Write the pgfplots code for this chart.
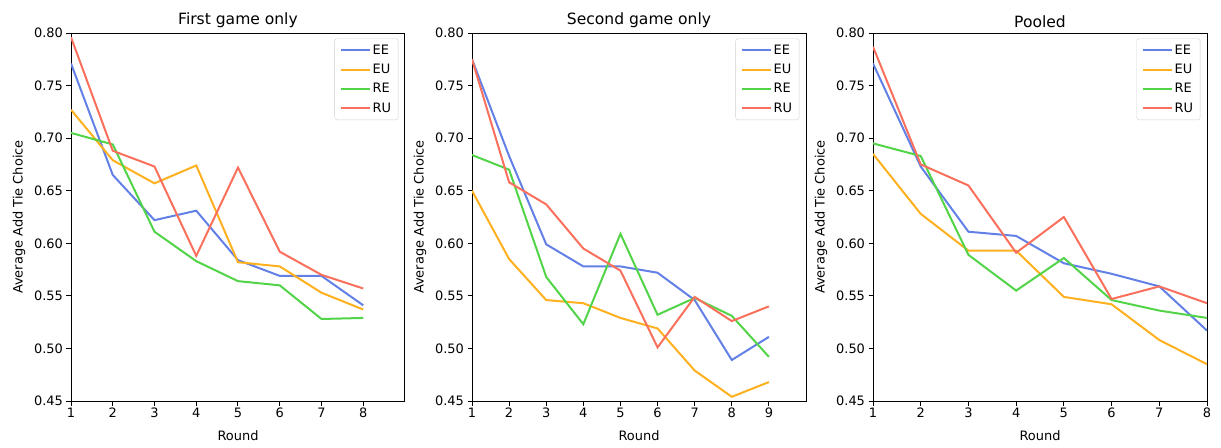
\documentclass[border=0pt]{standalone}
\usepackage{fontspec}
\setmainfont{DejaVu Sans}
\usepackage{pgfplots}
\pgfplotsset{compat=1.18}
\usepgfplotslibrary{groupplots}
\usetikzlibrary{calc}
\definecolor{cEE}{RGB}{98,128,230}
\definecolor{cEU}{RGB}{255,176,30}
\definecolor{cRE}{RGB}{82,212,72}
\definecolor{cRU}{RGB}{250,112,92}
\begin{document}
\begin{tikzpicture}
\begin{groupplot}[
  group style={group size=3 by 1, horizontal sep=67bp},
  scale only axis, width=334bp, height=368bp,
  ymin=0.45, ymax=0.80, xmin=1,
  ytick={0.45,0.50,0.55,0.60,0.65,0.70,0.75,0.80},
  yticklabel style={/pgf/number format/fixed, /pgf/number format/fixed zerofill, /pgf/number format/precision=2},
  /pgf/number format/assume math mode=true,
  tick align=outside, tick pos=left,
  major tick length=4.5bp,
  every tick/.style={line width=1bp},
  tick label style={font=\fontsize{13}{15}\selectfont},
  xticklabel style={yshift=1bp},
  label style={font=\fontsize{13}{15}\selectfont},
  xlabel style={yshift=-6bp},
  ylabel style={yshift=2bp},
  title style={font=\fontsize{15.6}{18}\selectfont, yshift=-4bp},
  xlabel={Round}, ylabel={Average Add Tie Choice},
  every axis plot/.append style={line width=2bp, mark=none},
  legend style={at={(0.98,0.985)}, anchor=north east, draw=black!18, rounded corners=2.5pt,
    font=\fontsize{13}{15}\selectfont, row sep=4.5pt, inner xsep=5pt, inner ysep=4pt},
  legend cell align=left,
  legend image code/.code={\draw[#1] (0bp,0bp) -- (29bp,0bp);},
  axis line style={line width=1bp},
]
\nextgroupplot[title={First game only}, xmax=9, xtick={1,...,8}]
\addplot[cEE] coordinates {(1,0.771)(2,0.665)(3,0.622)(4,0.631)(5,0.584)(6,0.569)(7,0.569)(8,0.541)};
\addplot[cEU] coordinates {(1,0.727)(2,0.679)(3,0.657)(4,0.674)(5,0.582)(6,0.578)(7,0.553)(8,0.537)};
\addplot[cRE] coordinates {(1,0.705)(2,0.694)(3,0.611)(4,0.583)(5,0.564)(6,0.560)(7,0.528)(8,0.529)};
\addplot[cRU] coordinates {(1,0.796)(2,0.688)(3,0.673)(4,0.588)(5,0.672)(6,0.592)(7,0.570)(8,0.557)};
\legend{EE,EU,RE,RU}
\nextgroupplot[title={Second game only}, xmax=10, xtick={1,...,9}]
\addplot[cEE] coordinates {(1,0.775)(2,0.683)(3,0.599)(4,0.578)(5,0.578)(6,0.572)(7,0.546)(8,0.489)(9,0.511)};
\addplot[cEU] coordinates {(1,0.650)(2,0.585)(3,0.546)(4,0.543)(5,0.529)(6,0.519)(7,0.479)(8,0.454)(9,0.468)};
\addplot[cRE] coordinates {(1,0.684)(2,0.670)(3,0.568)(4,0.523)(5,0.609)(6,0.532)(7,0.548)(8,0.531)(9,0.492)};
\addplot[cRU] coordinates {(1,0.775)(2,0.658)(3,0.637)(4,0.595)(5,0.574)(6,0.501)(7,0.549)(8,0.526)(9,0.540)};
\legend{EE,EU,RE,RU}
\nextgroupplot[title={Pooled}, xmax=8, xtick={1,...,8}]
\addplot[cEE] coordinates {(1,0.771)(2,0.673)(3,0.611)(4,0.607)(5,0.581)(6,0.571)(7,0.559)(8,0.517)};
\addplot[cEU] coordinates {(1,0.685)(2,0.628)(3,0.593)(4,0.593)(5,0.549)(6,0.542)(7,0.508)(8,0.485)};
\addplot[cRE] coordinates {(1,0.695)(2,0.683)(3,0.589)(4,0.555)(5,0.586)(6,0.546)(7,0.536)(8,0.529)};
\addplot[cRU] coordinates {(1,0.787)(2,0.675)(3,0.655)(4,0.591)(5,0.625)(6,0.547)(7,0.559)(8,0.543)};
\legend{EE,EU,RE,RU}
\end{groupplot}
\useasboundingbox ($(group c1r1.south west)+(-71bp,-46bp)$) rectangle ($(group c3r1.north east)+(14bp,33bp)$);
\end{tikzpicture}
\end{document}
